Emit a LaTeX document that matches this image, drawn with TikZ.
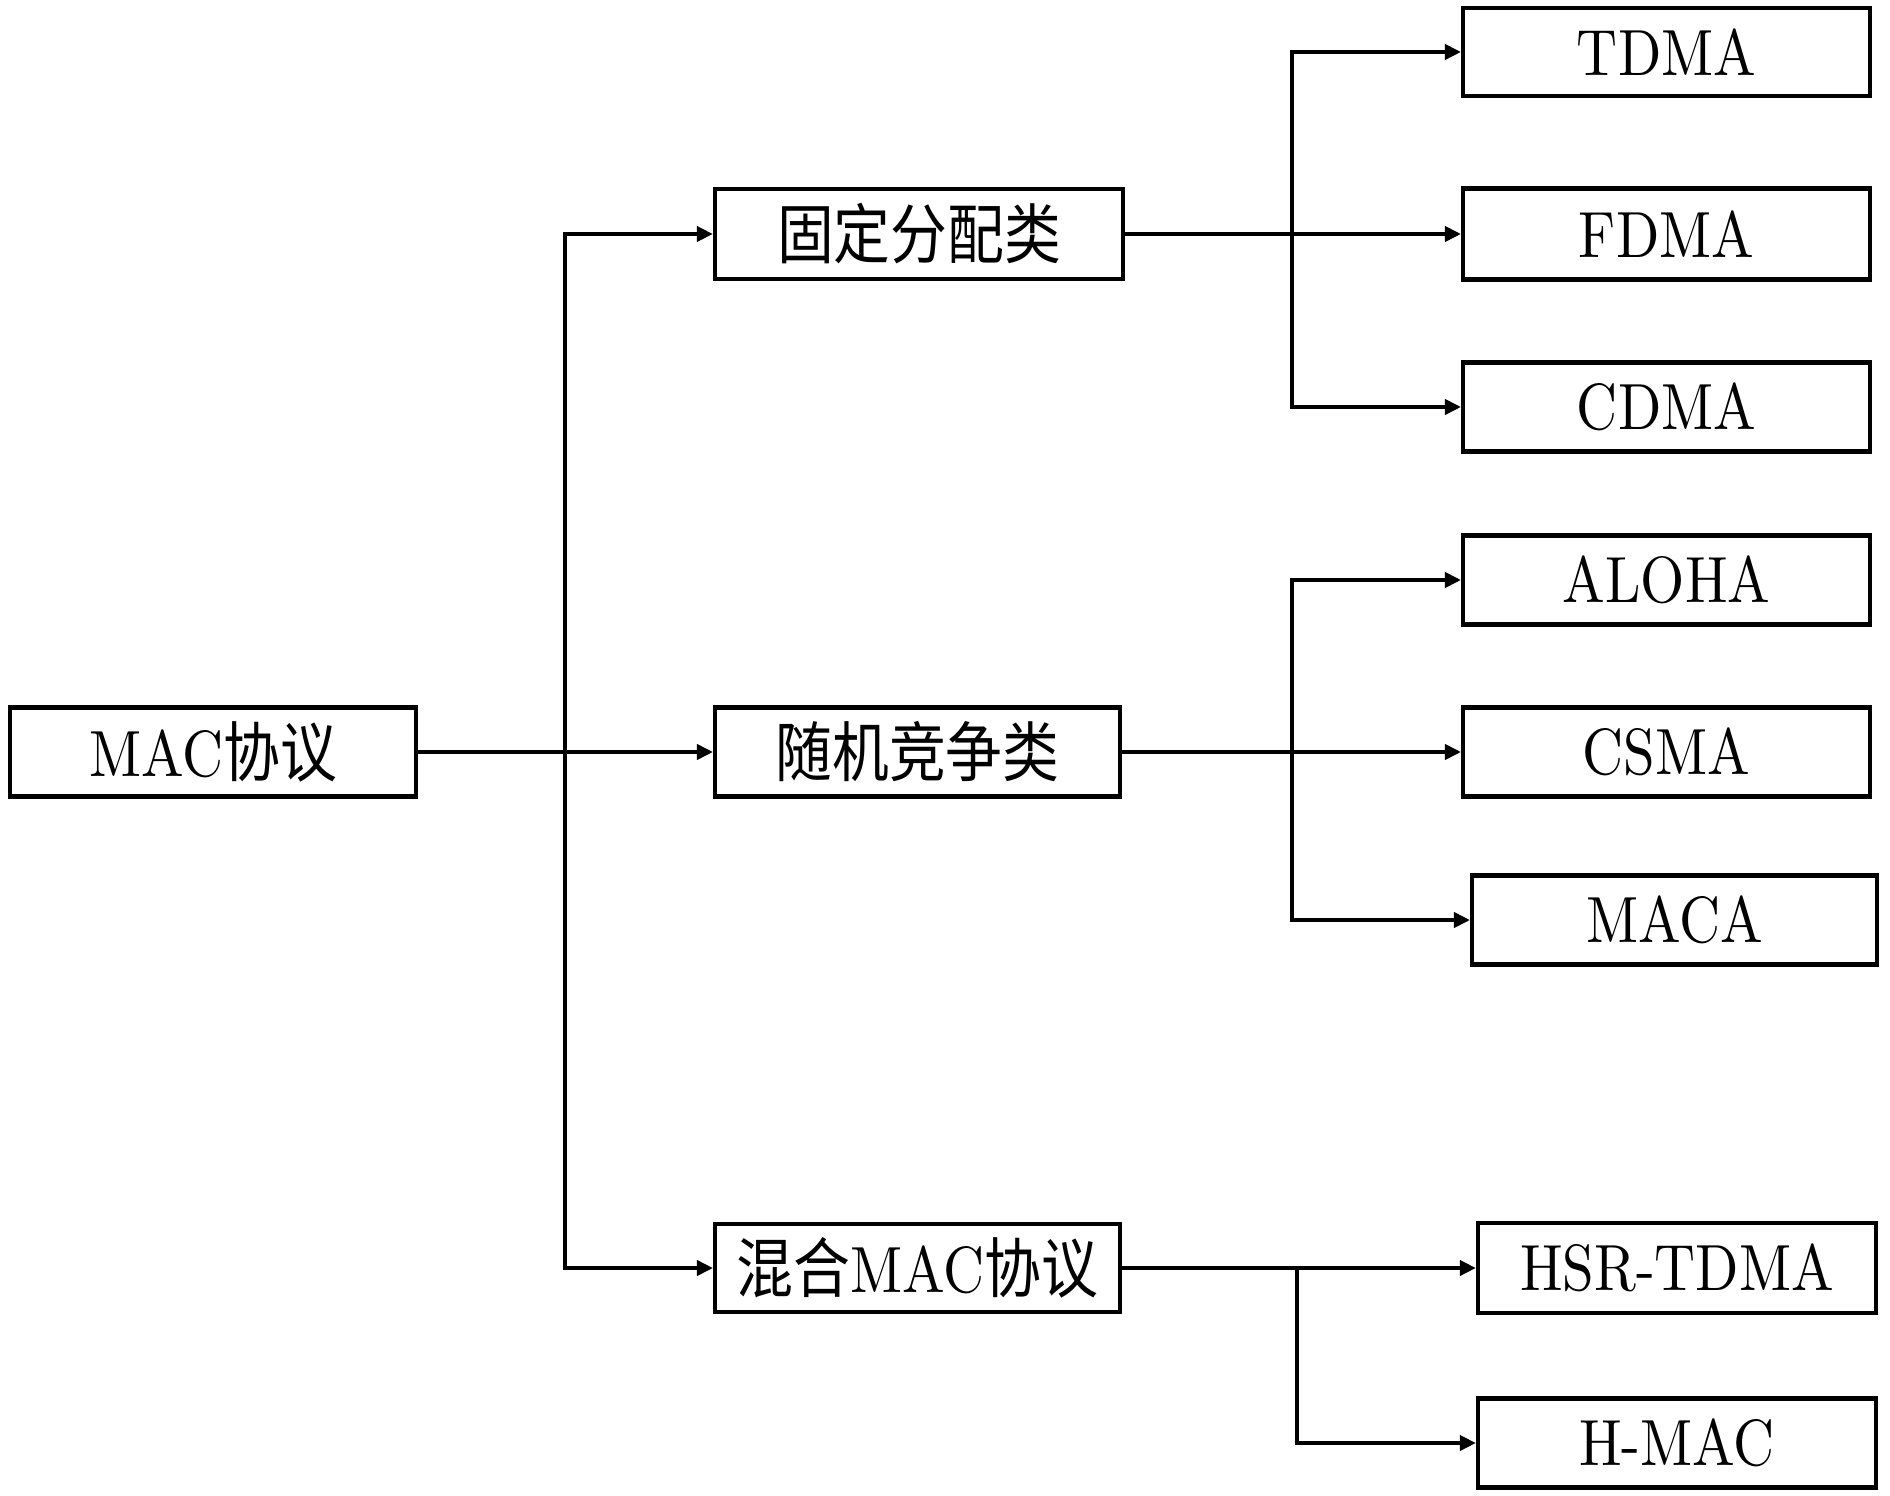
\documentclass[tikz,border=0pt]{standalone}
\usepackage{fontspec}
\usepackage{graphicx}
\setmainfont{lmroman10-regular}[Extension=.otf]
\newfontfamily\cjk{Noto Sans CJK SC}
\usetikzlibrary{arrows.meta}
\newcommand{\tx}[1]{\scalebox{1}[1.15]{#1}}
\tikzset{
  box/.style={draw=black, line width=1.1pt, rectangle, fill=white, inner sep=0pt,
    font=\fontsize{14.2}{17}\selectfont},
  arr/.style={draw=black, line width=0.85pt, -{Triangle[length=4pt,width=3.8pt]}},
  ln/.style={draw=black, line width=0.85pt}
}
\begin{document}
\begin{tikzpicture}[x=0.25pt,y=-0.25pt]
\useasboundingbox (0,0) rectangle (1890,1495);
% level 0
\node[box, minimum width=101.5pt, minimum height=22.3pt] (mac) at (213,752) {\tx{MAC{\cjk 协议}}};
% level 1
\node[box, minimum width=102pt, minimum height=22.5pt] (fixed) at (919,234) {\tx{\cjk 固定分配类}};
\node[box, minimum width=101.2pt, minimum height=22.3pt] (rand) at (917.5,752) {\tx{\cjk 随机竞争类}};
\node[box, minimum width=101.2pt, minimum height=22pt] (hyb) at (917.5,1268) {\tx{{\cjk 混合}MAC{\cjk 协议}}};
% level 2
\node[box, minimum width=101.7pt, minimum height=22pt] (tdma) at (1666.5,52) {\tx{TDMA}};
\node[box, minimum width=101.7pt, minimum height=22.7pt] (fdma) at (1666.5,234) {\tx{FDMA}};
\node[box, minimum width=101.7pt, minimum height=22.3pt] (cdma) at (1666.5,407) {\tx{CDMA}};
\node[box, minimum width=101.7pt, minimum height=22.3pt] (aloha) at (1666.5,580) {\tx{ALOHA}};
\node[box, minimum width=101.7pt, minimum height=22.3pt] (csma) at (1666.5,752) {\tx{CSMA}};
\node[box, minimum width=101.2pt, minimum height=22.3pt] (maca) at (1674.5,920) {\tx{MACA}};
\node[box, minimum width=99.5pt, minimum height=22.5pt] (hsr) at (1677,1268) {\tx{HSR-TDMA}};
\node[box, minimum width=99.5pt, minimum height=22.3pt] (hmac) at (1677,1443) {\tx{H-MAC}};
% junctions
\coordinate (j1) at (565,752);
\coordinate (j2) at (1292,234);
\coordinate (j3) at (1292,752);
\coordinate (j4) at (1297,1268);
% connectors
\draw[arr] (mac.east) -- (rand.west);
\draw[arr] (j1) |- (fixed.west);
\draw[arr] (j1) |- (hyb.west);
\draw[arr] (fixed.east) -- (fdma.west);
\draw[arr] (j2) |- (tdma.west);
\draw[arr] (j2) |- (cdma.west);
\draw[arr] (rand.east) -- (csma.west);
\draw[arr] (j3) |- (aloha.west);
\draw[arr] (j3) |- (maca.west);
\draw[arr] (hyb.east) -- (hsr.west);
\draw[arr] (j4) |- (hmac.west);
\end{tikzpicture}
\end{document}
